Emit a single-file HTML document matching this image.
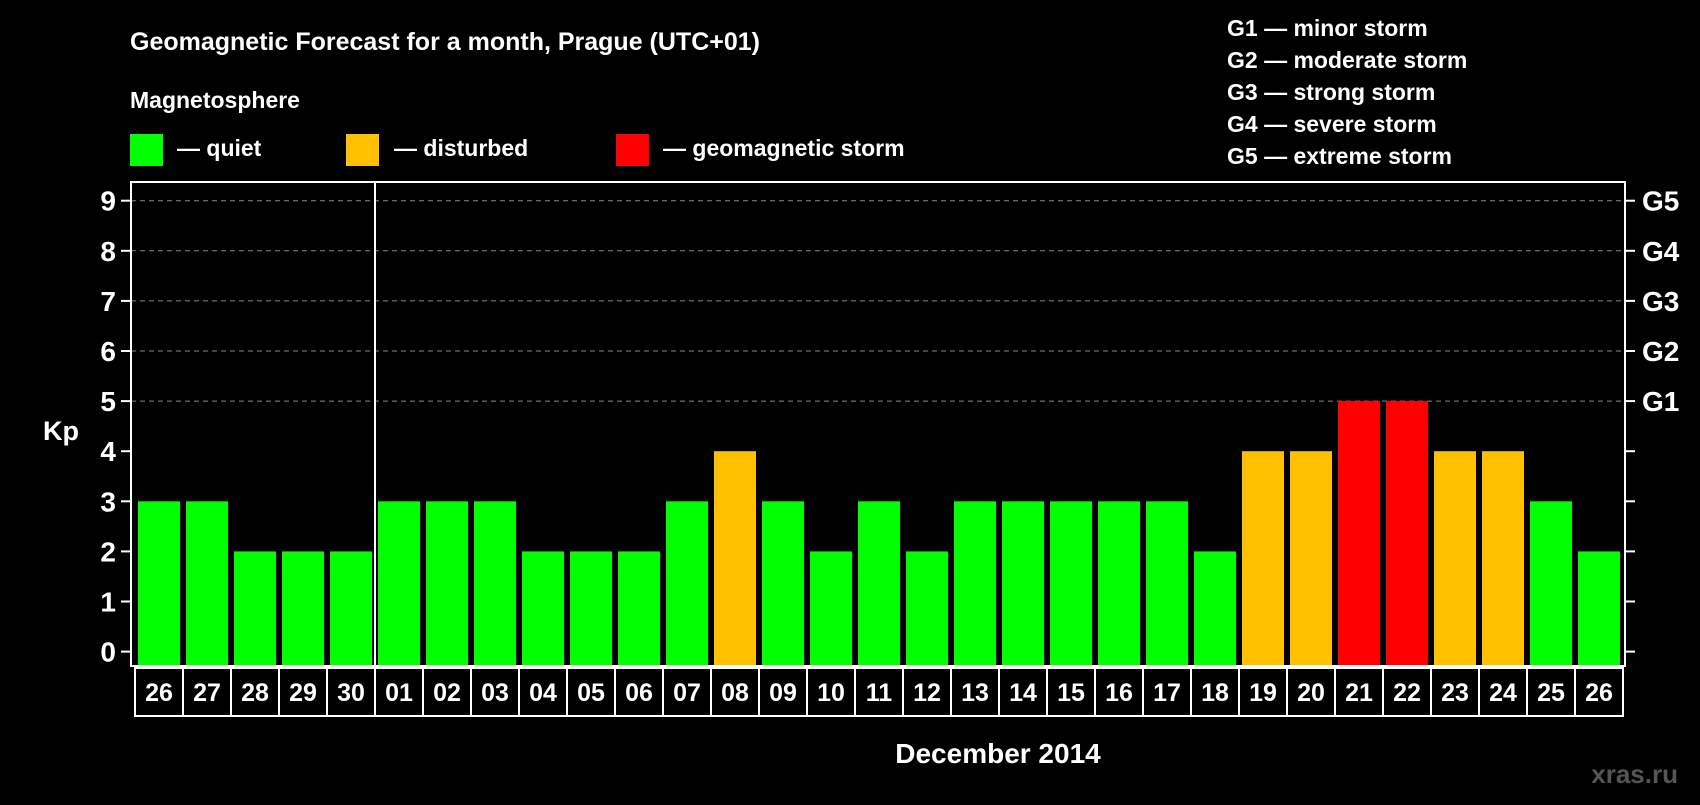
<!DOCTYPE html>
<html><head><meta charset="utf-8"><style>
body{margin:0;background:#000;width:1700px;height:800px;overflow:hidden}
svg text{font-family:"Liberation Sans",Arial,sans-serif;font-weight:bold;fill:#fff}
</style></head><body>
<svg id="chart" width="1700" height="800" viewBox="0 0 1700 800">
<text x="130" y="50" font-size="25">Geomagnetic Forecast for a month, Prague (UTC+01)</text>
<text x="130" y="108" font-size="23">Magnetosphere</text>
<rect x="130" y="134" width="33" height="32" fill="#00ff00"/>
<text x="177" y="156" font-size="23">— quiet</text>
<rect x="346" y="134" width="33" height="32" fill="#ffc000"/>
<text x="394" y="156" font-size="23">— disturbed</text>
<rect x="616" y="134" width="33" height="32" fill="#ff0000"/>
<text x="663" y="156" font-size="23">— geomagnetic storm</text>
<g font-size="23">
<text x="1227" y="36">G1 — minor storm</text>
<text x="1227" y="68">G2 — moderate storm</text>
<text x="1227" y="100">G3 — strong storm</text>
<text x="1227" y="132">G4 — severe storm</text>
<text x="1227" y="164">G5 — extreme storm</text>
</g>
<text x="43" y="440" font-size="27">Kp</text>
<text x="998" y="763" font-size="28" text-anchor="middle">December 2014</text>
<text x="1678" y="783" font-size="26" text-anchor="end" style="fill:#555">xras.ru</text>
<g id="grid"></g><g id="bars"></g><g id="axes"></g>
</svg>
<script>
const days=["26","27","28","29","30","01","02","03","04","05","06","07","08","09","10","11","12","13","14","15","16","17","18","19","20","21","22","23","24","25","26"];
const kp=[3,3,2,2,2,3,3,3,2,2,2,3,4,3,2,3,2,3,3,3,3,3,2,4,4,5,5,4,4,3,2];
const yTicks=[0,1,2,3,4,5,6,7,8,9];
const gLabels=["","","","","","G1","G2","G3","G4","G5"];
const NS="http://www.w3.org/2000/svg";
const L=131,R=1625,T=182,B=666,x0=138,step=48,bw=42;
const y=v=>651.6-v*50.1;
const x=i=>x0+i*step;
function mk(t,a,p){const e=document.createElementNS(NS,t);for(const k in a)e.setAttribute(k,a[k]);p.appendChild(e);return e;}
const grid=document.getElementById('grid'),bars=document.getElementById('bars'),axes=document.getElementById('axes');
yTicks.forEach(v=>{
 if(v>=5){const g=mk('line',{x1:L,x2:R,y1:y(v),y2:y(v),stroke:'#888','stroke-width':1,'stroke-dasharray':'5,4'},grid);
 
 }
 const t1=mk('line',{x1:L-10,x2:L,y1:y(v),y2:y(v),stroke:'#fff','stroke-width':2},axes);
 
 
 const t2=mk('line',{x1:R,x2:R+10,y1:y(v),y2:y(v),stroke:'#fff','stroke-width':2},axes);
 
 
 const lb=mk('text',{x:116,y:y(v)+10,'font-size':28,'text-anchor':'end'},axes);lb.textContent=v;
 
 
 if(gLabels[v]){const g2=mk('text',{x:1642,y:y(v)+10,'font-size':28},axes);g2.textContent=gLabels[v];
 
 }
});
kp.forEach((v,i)=>{
 const c=v>=5?'#ff0000':v>=4?'#ffc000':'#00ff00';
 const r=mk('rect',{x:x(i),y:y(v),width:bw,height:B-y(v),fill:c},bars);
 
 
 const bx=mk('rect',{x:x(i)-3,y:668,width:step,height:48,fill:'none',stroke:'#fff','stroke-width':2},axes);
 
 
 const t=mk('text',{x:x(i)+bw/2,y:701,'font-size':25,'text-anchor':'middle'},axes);t.textContent=days[i];
 
 
});
const fr=mk('rect',{x:L,y:T,width:R-L,height:B-T,fill:'none',stroke:'#fff','stroke-width':2},axes);


const sx=x(5)-3;
const sep=mk('line',{x1:sx,x2:sx,y1:T,y2:716,stroke:'#fff','stroke-width':2},axes);


</script>
</body></html>
